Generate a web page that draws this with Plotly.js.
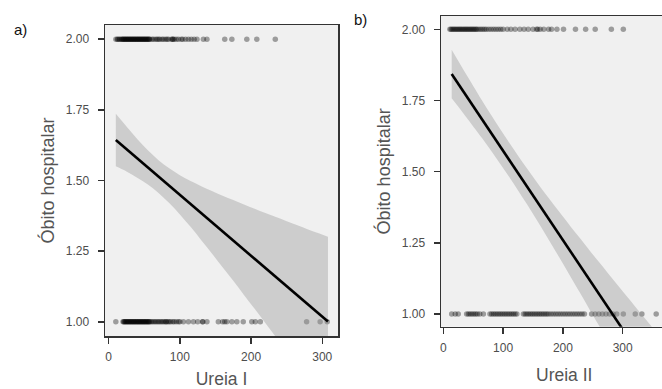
<!DOCTYPE html>
<html>
<head>
<meta charset="utf-8">
<script src="https://cdn.plot.ly/plotly-3.0.1.min.js"></script>
<style>html,body{margin:0;padding:0;background:#fff}#chart{width:662px;height:389px}</style>
</head>
<body>
<div id="chart"></div>
<script>
// ---- Panel a: Ureia I ----
const ureiaI_obito2 = [10,12,13,15,16,18,19,20,21,22,23,24,25,26,27,28,29,30,31,32,33,34,35,36,37,38,39,40,41,42,43,44,45,46,47,48,49,50,51,52,53,54,55,56,57,58,61,63,66,68,70,72,75,77,80,82,84,88,90,90,92,95,98,102,104,108,112,116,120,124,133,138,163,173,194,208,234];
const ureiaI_obito1 = [10,20,21,22,23,24,25,26,27,28,29,30,31,32,33,34,35,36,37,38,39,40,41,42,43,44,45,46,47,48,49,50,51,52,53,54,55,56,57,58,60,62,64,66,68,70,72,74,76,78,80,81,83,85,87,90,92,95,98,100,105,112,119,125,132,132,138,154,160,163,166,173,180,189,201,206,213,278,297,307];
const fitI_x = [10, 308];
const fitI_y = [1.643, 1.001];
const bandI_x =     [10,    25,    40,    55,    70,    85,    100,   115,   130,   145,   160,   175,   190,   205,   220,   235,   250,   265,   280,   295,   308];
const bandI_upper = [1.736, 1.691, 1.647, 1.607, 1.572, 1.543, 1.519, 1.498, 1.480, 1.463, 1.446, 1.431, 1.415, 1.400, 1.385, 1.371, 1.356, 1.342, 1.327, 1.313, 1.301];
const bandI_lower = [1.550, 1.532, 1.510, 1.486, 1.456, 1.420, 1.380, 1.336, 1.289, 1.242, 1.193, 1.145, 1.095, 1.046, 0.996, 0.946, 0.895, 0.845, 0.795, 0.744, 0.701];

// ---- Panel b: Ureia II ----
const ureiaII_obito2 = [11,13,15,17,19,21,23,25,27,29,31,33,35,37,39,41,43,45,47,49,51,53,55,57,60,63,66,69,72,76,80,84,88,92,96,100,107,113,120,128,135,142,150,156,158,162,168,176,181,190,201,221,238,254,281,301];
const ureiaII_obito1 = [14,20,25,39,42,45,48,51,54,57,61,67,78,81,84,87,90,93,96,99,102,105,108,111,114,117,120,123,134,137,140,143,146,149,152,155,158,161,164,167,170,173,176,180,184,188,192,196,200,204,208,212,216,220,224,228,232,236,248,254,260,266,272,278,284,290,301,321,332,356];
const fitII_x = [14, 356];
const fitII_y = [1.843, 0.770];
const bandII_x =     [14,    30,    50,    65,    80,    95,    110,   125,   140,   155,   170,   185,   200,   215,   230,   245,   260,   275,   290,   305,   320,   338,   356];
const bandII_upper = [1.928, 1.871, 1.801, 1.749, 1.699, 1.650, 1.602, 1.556, 1.511, 1.467, 1.424, 1.383, 1.342, 1.301, 1.262, 1.222, 1.183, 1.144, 1.105, 1.066, 1.028, 0.982, 0.936];
const bandII_lower = [1.758, 1.715, 1.659, 1.617, 1.573, 1.528, 1.482, 1.434, 1.385, 1.334, 1.283, 1.230, 1.177, 1.123, 1.069, 1.014, 0.960, 0.904, 0.849, 0.794, 0.738, 0.671, 0.604];

const yTicks = [1.00, 1.25, 1.50, 1.75, 2.00];
const yTickText = ["1.00", "1.25", "1.50", "1.75", "2.00"];
const xTicks = [0, 100, 200, 300];

const ptColor = 'rgba(0,0,0,0.35)';
function pts(xs, yv, xa, ya) {
  return {type:'scatter', mode:'markers', x: xs, y: xs.map(()=>yv), xaxis:xa, yaxis:ya,
    marker:{size:5.5, color:ptColor, line:{width:0}}, hoverinfo:'skip', showlegend:false, cliponaxis:true};
}
function band(bx, up, lo, xa, ya) {
  return [
    {type:'scatter', mode:'lines', x: bx, y: up, xaxis:xa, yaxis:ya, line:{width:0, shape:'spline', color:'rgba(0,0,0,0)'}, hoverinfo:'skip', showlegend:false},
    {type:'scatter', mode:'lines', x: bx, y: lo, xaxis:xa, yaxis:ya, fill:'tonexty', fillcolor:'rgba(153,153,153,0.4)', line:{width:0, shape:'spline', color:'rgba(0,0,0,0)'}, hoverinfo:'skip', showlegend:false}
  ];
}
function fit(fx, fy, xa, ya) {
  return {type:'scatter', mode:'lines', x: fx, y: fy, xaxis:xa, yaxis:ya, line:{color:'#000', width:2.6}, hoverinfo:'skip', showlegend:false};
}

const data = [
  pts(ureiaI_obito2, 2, 'x', 'y'), pts(ureiaI_obito1, 1, 'x', 'y'),
  ...band(bandI_x, bandI_upper, bandI_lower, 'x', 'y'), fit(fitI_x, fitI_y, 'x', 'y'),
  pts(ureiaII_obito2, 2, 'x2', 'y2'), pts(ureiaII_obito1, 1, 'x2', 'y2'),
  ...band(bandII_x, bandII_upper, bandII_lower, 'x2', 'y2'), fit(fitII_x, fitII_y, 'x2', 'y2')
];

const font = 'Liberation Sans, Arial, sans-serif';
const tickFont = {family: font, size: 12, color: '#4d4d4d'};
const titleFont = {family: font, size: 18, color: '#555555'};
const axCommon = {showgrid:false, zeroline:false, showline:true, linecolor:'#333', linewidth:1.5,
  ticks:'outside', ticklen:6, tickwidth:1.5, tickcolor:'#333', tickfont: tickFont, automargin:false, fixedrange:true};

const layout = {
  width: 662, height: 389,
  margin: {l:0, r:0, t:0, b:0},
  paper_bgcolor: '#ffffff', plot_bgcolor: '#f0f0f0',
  showlegend: false,
  xaxis: Object.assign({}, axCommon, {domain:[105/662, 338/662], range:[-5.2, 322.1], tickvals:xTicks, mirror:true, anchor:'y', ticklabelstandoff:3,
    title:{text:'Ureia I', font:{family:font, size:17.5, color:'#555555'}, standoff:13}}),
  yaxis: Object.assign({}, axCommon, {domain:[1-336/389, 1-25/389], range:[0.95, 2.05], tickvals:yTicks, ticktext:yTickText, mirror:true, anchor:'x', ticklabelstandoff:6,
    title:{text:'Óbito hospitalar', font:titleFont, standoff:6}}),
  xaxis2: Object.assign({}, axCommon, {domain:[441/662, 1], range:[-3.85, 365.7], tickvals:xTicks, mirror:true, anchor:'y2', ticklabelstandoff:3}),
  yaxis2: Object.assign({}, axCommon, {domain:[1-326.7/389, 1-16/389], range:[0.955, 2.047], tickvals:yTicks, ticktext:yTickText, mirror:false, anchor:'x2', ticklabelstandoff:6,
    title:{text:'Óbito hospitalar', font:titleFont, standoff:6}}),
  annotations: [
    {text:'a)', xref:'paper', yref:'paper', x:12/662, y:1-30/389, xanchor:'left', yanchor:'middle', showarrow:false, font:{family:font, size:15, color:'#111'}},
    {text:'b)', xref:'paper', yref:'paper', x:352/662, y:1-20/389, xanchor:'left', yanchor:'middle', showarrow:false, font:{family:font, size:15, color:'#111'}},
    {text:'Ureia II', xref:'paper', yref:'paper', x:564/662, y:1-375/389, xanchor:'center', yanchor:'middle', showarrow:false, font:{family:font, size:17.5, color:'#555555'}}
  ]
};

Plotly.newPlot('chart', data, layout, {staticPlot:true, displayModeBar:false});
</script>
</body>
</html>
